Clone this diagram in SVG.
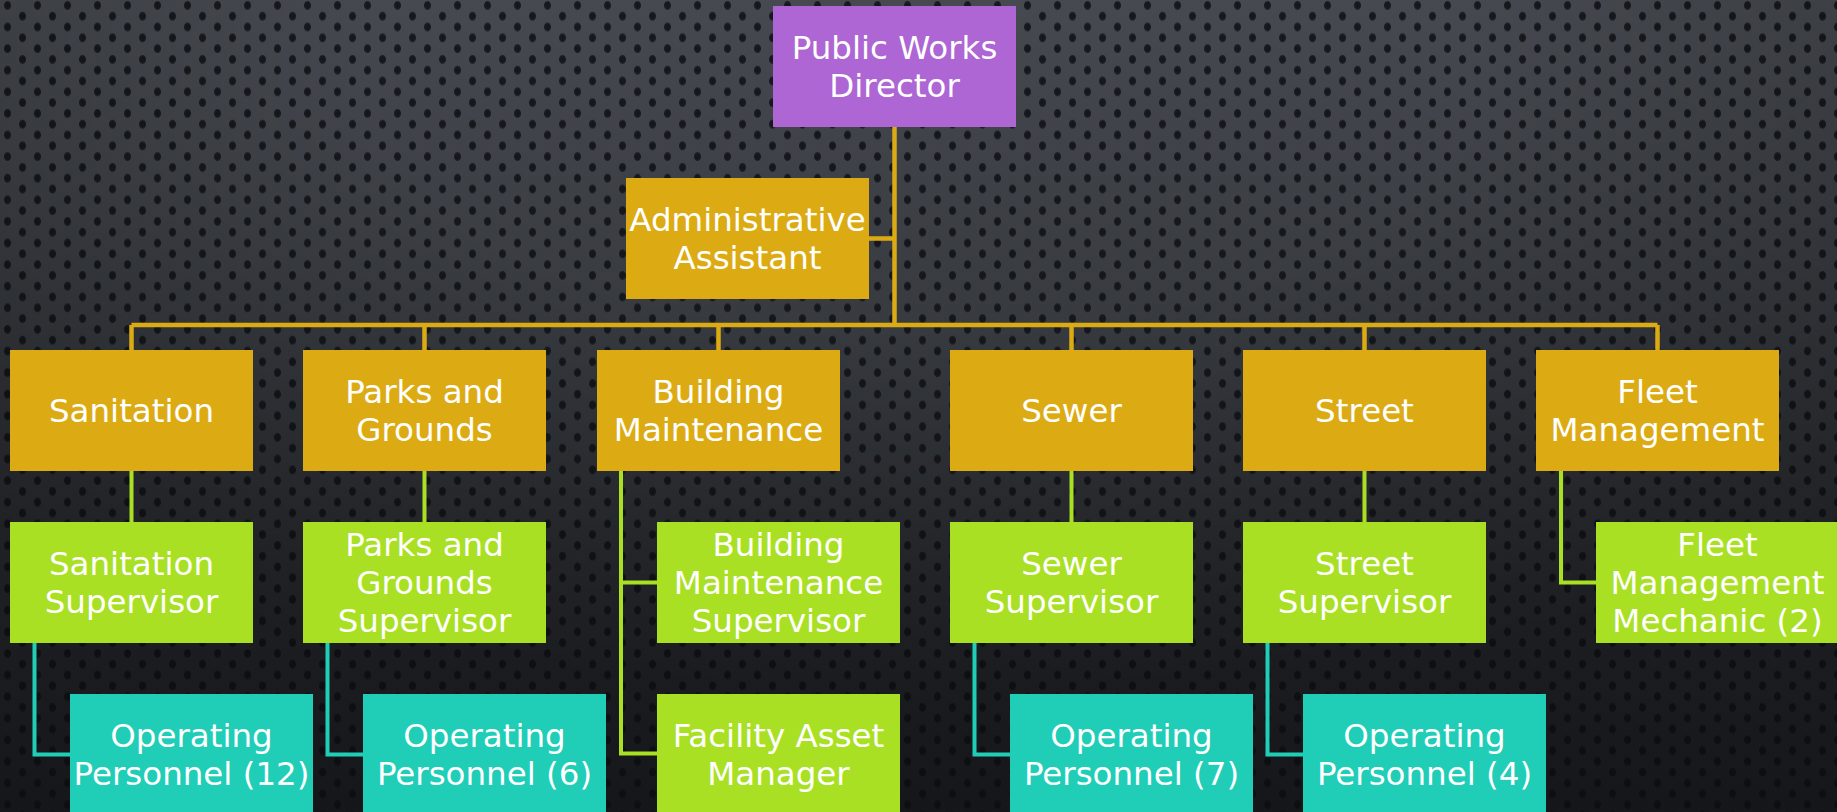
<svg xmlns="http://www.w3.org/2000/svg" width="1837" height="812" viewBox="0 0 1837 812">
  <defs>
    <!-- dark perforated backdrop -->
    <linearGradient id="bgFade" x1="0" y1="0" x2="0" y2="1">
      <stop offset="0" stop-color="#464a50"/>
      <stop offset="0.45" stop-color="#35383d"/>
      <stop offset="1" stop-color="#1e2024"/>
    </linearGradient>
    <radialGradient id="vignette" cx="0.5" cy="0.1" r="0.75">
      <stop offset="0.4" stop-color="#000" stop-opacity="0"/>
      <stop offset="1" stop-color="#000" stop-opacity="0.3"/>
    </radialGradient>
    <radialGradient id="hole">
      <stop offset="0" stop-color="#111317" stop-opacity="0.95"/>
      <stop offset="0.75" stop-color="#111317" stop-opacity="0.85"/>
      <stop offset="1" stop-color="#111317" stop-opacity="0"/>
    </radialGradient>
    <pattern id="dots" patternUnits="userSpaceOnUse" width="30" height="21.6">
      <ellipse cx="7.5" cy="5.4" rx="4" ry="5" fill="url(#hole)"/>
      <ellipse cx="22.5" cy="16.2" rx="4" ry="5" fill="url(#hole)"/>
    </pattern>
    <style>
      .box { stroke: none; }
      .director { fill: #ad66d3; }
      .gold { fill: #dcab13; }
      .lime { fill: #a9e024; }
      .teal { fill: #20cdb7; }
      .lbl { font-family: "DejaVu Sans", "Liberation Sans", sans-serif; font-size: 32.5px; fill: #ffffff; text-anchor: middle; }
      .c-gold { stroke: #dcab13; stroke-width: 4.5; fill: none; }
      .c-lime { stroke: #a9e024; stroke-width: 4; fill: none; }
      .c-teal { stroke: #20cdb7; stroke-width: 4; fill: none; }
    </style>
  </defs>

  <rect x="0" y="0" width="1837" height="812" fill="url(#bgFade)"/>
  <rect x="0" y="0" width="1837" height="812" fill="url(#dots)"/>
  <rect x="0" y="0" width="1837" height="812" fill="url(#vignette)"/>

  <!-- connectors -->
  <g id="connectors">
    <path class="c-gold" d="M894.5 127 V325 M869 238.5 H894.5 M131.5 325 H1657.5 M131.5 325 V350 M424.5 325 V350 M718.5 325 V350 M1071.5 325 V350 M1364.5 325 V350 M1657.5 325 V350"/>
    <path class="c-lime" d="M131.5 471 V522 M424.5 471 V522 M1071.5 471 V522 M1364.5 471 V522 M621 471 V753.5 H657 M621 582.5 H657 M1561 471 V582.5 H1596"/>
    <path class="c-teal" d="M34.5 643 V754.5 H70 M327.5 643 V754.5 H363 M974.5 643 V754.5 H1010 M1267.5 643 V754.5 H1303"/>
  </g>

  <!-- director and assistant -->
  <g id="director">
    <rect class="box director" x="773" y="6" width="243" height="121"/>
    <text class="lbl" x="894.5" y="59">Public Works</text>
    <text class="lbl" x="894.5" y="97">Director</text>
  </g>
  <g id="admin-assistant">
    <rect class="box gold" x="626" y="178" width="243" height="121"/>
    <text class="lbl" x="747.5" y="231">Administrative</text>
    <text class="lbl" x="747.5" y="269">Assistant</text>
  </g>

  <!-- divisions -->
  <g id="sanitation">
    <rect class="box gold" x="10" y="350" width="243" height="121"/>
    <text class="lbl" x="131.5" y="422">Sanitation</text>
  </g>
  <g id="parks">
    <rect class="box gold" x="303" y="350" width="243" height="121"/>
    <text class="lbl" x="424.5" y="403">Parks and</text>
    <text class="lbl" x="424.5" y="441">Grounds</text>
  </g>
  <g id="building">
    <rect class="box gold" x="597" y="350" width="243" height="121"/>
    <text class="lbl" x="718.5" y="403">Building</text>
    <text class="lbl" x="718.5" y="441">Maintenance</text>
  </g>
  <g id="sewer">
    <rect class="box gold" x="950" y="350" width="243" height="121"/>
    <text class="lbl" x="1071.5" y="422">Sewer</text>
  </g>
  <g id="street">
    <rect class="box gold" x="1243" y="350" width="243" height="121"/>
    <text class="lbl" x="1364.5" y="422">Street</text>
  </g>
  <g id="fleet">
    <rect class="box gold" x="1536" y="350" width="243" height="121"/>
    <text class="lbl" x="1657.5" y="403">Fleet</text>
    <text class="lbl" x="1657.5" y="441">Management</text>
  </g>

  <!-- supervisors -->
  <g id="sanitation-supervisor">
    <rect class="box lime" x="10" y="522" width="243" height="121"/>
    <text class="lbl" x="131.5" y="575">Sanitation</text>
    <text class="lbl" x="131.5" y="613">Supervisor</text>
  </g>
  <g id="parks-supervisor">
    <rect class="box lime" x="303" y="522" width="243" height="121"/>
    <text class="lbl" x="424.5" y="556">Parks and</text>
    <text class="lbl" x="424.5" y="594">Grounds</text>
    <text class="lbl" x="424.5" y="632">Supervisor</text>
  </g>
  <g id="building-supervisor">
    <rect class="box lime" x="657" y="522" width="243" height="121"/>
    <text class="lbl" x="778.5" y="556">Building</text>
    <text class="lbl" x="778.5" y="594">Maintenance</text>
    <text class="lbl" x="778.5" y="632">Supervisor</text>
  </g>
  <g id="sewer-supervisor">
    <rect class="box lime" x="950" y="522" width="243" height="121"/>
    <text class="lbl" x="1071.5" y="575">Sewer</text>
    <text class="lbl" x="1071.5" y="613">Supervisor</text>
  </g>
  <g id="street-supervisor">
    <rect class="box lime" x="1243" y="522" width="243" height="121"/>
    <text class="lbl" x="1364.5" y="575">Street</text>
    <text class="lbl" x="1364.5" y="613">Supervisor</text>
  </g>
  <g id="fleet-mechanic">
    <rect class="box lime" x="1596" y="522" width="243" height="121"/>
    <text class="lbl" x="1717.5" y="556">Fleet</text>
    <text class="lbl" x="1717.5" y="594">Management</text>
    <text class="lbl" x="1717.5" y="632">Mechanic (2)</text>
  </g>

  <!-- staff -->
  <g id="sanitation-personnel">
    <rect class="box teal" x="70" y="694" width="243" height="121"/>
    <text class="lbl" x="191.5" y="747">Operating</text>
    <text class="lbl" x="191.5" y="785">Personnel (12)</text>
  </g>
  <g id="parks-personnel">
    <rect class="box teal" x="363" y="694" width="243" height="121"/>
    <text class="lbl" x="484.5" y="747">Operating</text>
    <text class="lbl" x="484.5" y="785">Personnel (6)</text>
  </g>
  <g id="facility-asset-manager">
    <rect class="box lime" x="657" y="694" width="243" height="121"/>
    <text class="lbl" x="778.5" y="747">Facility Asset</text>
    <text class="lbl" x="778.5" y="785">Manager</text>
  </g>
  <g id="sewer-personnel">
    <rect class="box teal" x="1010" y="694" width="243" height="121"/>
    <text class="lbl" x="1131.5" y="747">Operating</text>
    <text class="lbl" x="1131.5" y="785">Personnel (7)</text>
  </g>
  <g id="street-personnel">
    <rect class="box teal" x="1303" y="694" width="243" height="121"/>
    <text class="lbl" x="1424.5" y="747">Operating</text>
    <text class="lbl" x="1424.5" y="785">Personnel (4)</text>
  </g>
</svg>
